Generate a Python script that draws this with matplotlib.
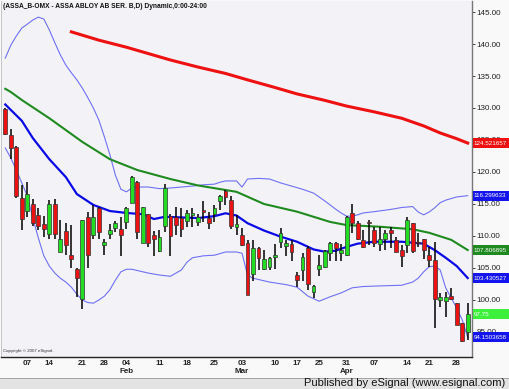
import matplotlib
matplotlib.use("Agg")
import matplotlib.pyplot as plt
from matplotlib.patches import Rectangle
from matplotlib.lines import Line2D
from matplotlib.transforms import blended_transform_factory

plt.rcParams["font.family"] = ["Liberation Sans", "DejaVu Sans"]

# daily candles, 2 Jan - 30 Apr 2008 (one entry per trading day)
opens = [129.8, 125.8, 123.95, 116.0, 113.9, 114.95, 113.3, 111.8, 110.3, 115.0,
         107.55, 110.8, 107.0, 104.8, 100.2, 113.0, 110.2, 114.3, 108.6, 110.3,
         111.3, 111.05, 112.2, 115.2, 118.5, 108.95, 113.4, 110.2, 107.7, 111.6,
         113.1, 113.0, 112.8, 112.3, 113.3, 112.2, 114.1, 112.8, 113.4, 115.4,
         117.1, 115.6, 111.45, 110.2, 108.95, 104.05, 108.1, 104.8, 105.2, 106.7,
         109.1, 108.4, 108.75, 103.9, 104.7, 108.2, 101.3, 104.8, 105.1, 107.4,
         108.95, 107.4, 107.0, 113.6, 112.0, 109.4, 112.2, 110.9, 108.7, 109.6,
         110.9, 109.3, 107.8, 108.6, 112.0, 109.1, 109.6, 107.0, 106.25, 100.0,
         99.9, 100.6, 99.5, 96.45, 95.0]
highs = [130.0, 126.7, 124.0, 118.0, 118.5, 115.8, 114.3, 113.2, 115.6, 115.8,
         112.5, 112.0, 111.7, 104.95, 112.5, 113.8, 114.85, 114.6, 109.6, 111.8,
         112.3, 113.0, 114.6, 119.3, 118.6, 114.6, 113.5, 110.8, 110.9, 118.2,
         113.4, 114.6, 114.3, 114.1, 114.3, 113.4, 115.4, 113.8, 114.85, 116.4,
         117.2, 116.25, 113.3, 111.2, 109.3, 109.4, 108.3, 107.8, 106.7, 108.75,
         111.2, 109.4, 109.4, 104.4, 107.4, 108.4, 102.35, 107.0, 107.8, 109.1,
         109.1, 108.75, 113.1, 115.0, 112.4, 110.9, 112.5, 111.45, 111.45, 110.9,
         111.35, 109.8, 108.6, 113.0, 112.1, 110.4, 109.6, 108.3, 109.1, 101.1,
         101.3, 101.8, 99.5, 96.45, 99.5]
lows = [125.8, 122.1, 116.0, 111.0, 113.0, 111.6, 110.9, 109.9, 109.6, 109.5,
        107.45, 107.1, 105.0, 100.5, 98.55, 105.0, 109.5, 109.5, 107.1, 109.5,
        110.7, 106.9, 111.05, 115.1, 109.5, 108.85, 108.3, 106.9, 107.55, 110.7,
        106.9, 110.2, 109.8, 111.4, 111.4, 111.6, 112.2, 111.05, 112.2, 114.0,
        114.85, 111.05, 110.2, 108.4, 100.8, 103.0, 104.7, 104.7, 104.7, 104.8,
        108.2, 106.9, 106.1, 102.1, 102.9, 101.6, 100.3, 103.75, 104.95, 106.1,
        106.1, 106.1, 106.9, 110.5, 109.3, 108.1, 108.6, 108.3, 107.7, 107.8,
        108.1, 107.55, 105.1, 107.4, 107.4, 108.3, 106.35, 105.1, 95.6, 98.9,
        97.3, 100.0, 96.1, 93.5, 93.8]
closes = [125.9, 123.7, 116.3, 112.7, 116.5, 112.1, 111.6, 111.1, 115.0, 110.3,
          109.5, 108.6, 106.4, 103.5, 112.5, 107.0, 113.0, 110.6, 109.1, 111.0,
          112.1, 110.2, 114.3, 119.2, 110.7, 114.5, 108.85, 109.6, 109.8, 117.45,
          110.0, 111.7, 111.05, 113.55, 113.55, 113.0, 113.8, 112.0, 114.3, 116.25,
          116.05, 111.6, 111.8, 108.6, 100.8, 108.1, 106.5, 106.35, 106.5, 107.0,
          110.5, 108.95, 107.55, 103.1, 106.7, 102.5, 102.2, 105.5, 107.7, 108.95,
          108.1, 107.8, 113.0, 112.1, 109.6, 108.3, 112.0, 108.85, 109.5, 110.5,
          110.5, 107.55, 106.9, 112.5, 107.7, 108.85, 107.8, 106.25, 100.1, 100.4,
          100.4, 100.1, 96.1, 93.65, 97.75]

# long moving average (red)
red_idx = [12, 17, 22, 26, 30, 35, 40, 44, 49, 53, 58, 62, 67, 72, 76, 79, 82, 84]
red_val = [141.9, 140.6, 139.5, 138.5, 137.5, 136.4, 135.4, 134.4, 133.2, 132.2,
           131.2, 130.3, 129.4, 128.4, 127.2, 126.1, 125.2, 124.521657]

# medium moving average (green)
green_idx = [0, 1, 3, 8, 14, 19, 24, 30, 35, 42, 47, 53, 59, 62, 68, 74, 77, 81, 84]
green_val = [133.0, 132.5, 131.25, 128.4, 124.7, 122.0, 120.3, 118.9, 117.9, 116.9,
             115.0, 113.8, 112.2, 111.7, 111.45, 111.05, 110.5, 109.4, 107.806895]

# short moving average (thick blue)
mid_idx = [0, 3, 5, 8, 11, 13, 16, 19, 22, 25, 27, 29, 32, 35, 38, 40, 42, 44, 47,
           50, 53, 56, 58, 60, 62, 64, 67, 72, 76, 78, 80, 82, 84]
mid_val = [130.55, 128.0, 125.3, 122.0, 119.2, 116.55, 114.85, 113.9, 113.6, 113.4,
           112.65, 113.0, 112.9, 112.8, 113.1, 113.55, 113.2, 112.0, 110.85, 109.9,
           109.1, 107.9, 107.55, 107.7, 108.3, 108.8, 109.1, 109.1, 108.8, 107.8,
           106.6, 105.3, 103.430527]

# upper band (thin blue)
upper_idx = [0, 1, 2, 3, 4, 5, 6, 7, 8, 9, 10, 11, 12, 13, 14, 15, 16, 17, 18, 19,
             20, 21, 22, 23, 24, 26, 28, 30, 32, 34, 36, 38, 39, 40, 41, 42, 43, 44,
             46, 48, 50, 52, 54, 56, 57, 58, 59, 60, 61, 62, 63, 64, 65, 67, 70, 72,
             74, 75, 76, 77, 78, 79, 80, 82, 84]
upper_val = [137.8, 139.8, 141.25, 142.5, 143.1, 143.75, 144.2, 143.9, 142.2, 140.2,
             138.3, 136.7, 135.5, 134.4, 133.1, 131.6, 130.0, 128.1, 125.5, 122.7,
             119.5, 117.3, 116.9, 117.5, 117.65, 117.65, 117.4, 117.5, 117.65, 117.8,
             118.0, 118.1, 118.4, 118.6, 118.6, 118.6, 117.65, 118.9, 119.0, 118.9,
             118.3, 117.8, 117.3, 116.7, 116.1, 115.5, 114.85, 114.2, 113.6, 113.1,
             113.1, 113.3, 113.6, 113.8, 114.15, 114.45, 114.6, 113.75, 113.3, 113.75,
             114.4, 115.2, 115.6, 116.1, 116.299633]

# lower band (thin blue)
lower_idx = [0, 1, 2, 3, 4, 5, 6, 7, 8, 9, 10, 11, 12, 13, 14, 15, 16, 17, 18, 19,
             20, 21, 22, 23, 24, 26, 28, 30, 32, 33, 34, 36, 38, 40, 42, 43, 44, 45,
             48, 51, 53, 55, 57, 59, 61, 63, 65, 68, 72, 74, 75, 76, 77, 78, 79, 80,
             82, 83, 84]
lower_val = [123.75, 122.2, 120.3, 118.3, 116.25, 112.8, 109.7, 106.9, 105.3, 104.2,
             103.4, 102.8, 102.0, 100.9, 100.0, 99.6, 99.5, 100.0, 100.6, 101.6,
             103.1, 104.4, 104.8, 104.8, 104.6, 104.2, 103.9, 103.7, 104.7, 105.9,
             106.6, 106.9, 107.0, 107.5, 107.5, 107.3, 103.9, 103.4, 102.8, 102.4,
             102.0, 100.6, 99.8, 100.5, 101.1, 101.9, 102.1, 102.2, 102.3, 102.8,
             103.4, 104.4, 105.2, 105.3, 104.7, 101.9, 98.75, 96.9, 94.1503658]

tick_pos = [4, 8, 14, 18, 22, 28, 33, 38, 43, 49, 53, 57, 62, 67, 73, 77, 82]
tick_labels = ["07", "14", "21", "28", "04\nFeb", "11", "18", "25", "03\nMar",
               "10", "17", "25", "31\nApr", "07", "14", "21", "28"]

title = "(ASSA_B-OMX - ASSA ABLOY AB SER. B,D) Dynamic,0:00-24:00"

RED = "#ee1111"
GREEN_C = "#22dd22"
MA_GREEN = "#1f8a1f"
BLUE = "#0a0ae6"
BAND = "#6f6ff5"
TAG_BLUE = "#1414ee"

fig = plt.figure(figsize=(5.09, 3.89), dpi=100, facecolor="#f9f9f9")
ax = fig.add_axes([1 / 509, 32 / 389, 471 / 509, 356 / 389])
ax.set_facecolor("#f3f3f7")

# indicator lines
ax.plot(upper_idx, upper_val, color=BAND, lw=0.8, zorder=2)
ax.plot(lower_idx, lower_val, color=BAND, lw=0.8, zorder=2)
ax.plot(green_idx, green_val, color=MA_GREEN, lw=1.5, zorder=2)
ax.plot(mid_idx, mid_val, color=BLUE, lw=1.6, zorder=2)
ax.plot(red_idx, red_val, color=RED, lw=2.2, zorder=2)

# candles
idx = list(range(len(closes)))
body_lo = [min(o, c) for o, c in zip(opens, closes)]
body_h = [max(abs(c - o), 0.2) for o, c in zip(opens, closes)]
colors = [GREEN_C if c >= o else RED for o, c in zip(opens, closes)]
ax.vlines(idx, lows, highs, color="black", lw=1.1, zorder=3)
ax.bar(idx, body_h, bottom=body_lo, width=0.7, color=colors,
       edgecolor="#333333", linewidth=0.5, zorder=4)

ax.set_xlim(-0.78, 84.78)
ax.set_ylim(91.09, 146.72)

ax.yaxis.tick_right()
yt = list(range(95, 150, 5))
ax.set_yticks(yt)
ax.set_yticklabels([f"{v:.2f}" for v in yt], fontsize=5.8)
ax.tick_params(axis="y", length=2, pad=1.5, colors="#222222", width=0.6)
ax.set_xticks(tick_pos)
ax.set_xticklabels(tick_labels, fontsize=5.8, fontweight="bold", linespacing=1.2)
ax.tick_params(axis="x", length=0, pad=2.5, colors="#222222")

ax.spines["top"].set_visible(False)
ax.spines["left"].set_color("#bbbbbb")
ax.spines["left"].set_linewidth(0.6)
ax.spines["right"].set_color("#777777")
ax.spines["right"].set_linewidth(1.0)
ax.spines["bottom"].set_color("#222222")
ax.spines["bottom"].set_linewidth(1.0)

# value tags at the right edge
tr = blended_transform_factory(ax.transAxes, ax.transData)
tags = [(red_val[-1], RED),
        (upper_val[-1], TAG_BLUE),
        (green_val[-1], MA_GREEN),
        (mid_val[-1], TAG_BLUE),
        (closes[-1], "#3cf03c"),
        (lower_val[-1], TAG_BLUE)]
for val, bg in tags:
    ax.add_patch(Rectangle((1.003, val - 0.78), 0.077, 1.56, transform=tr,
                           fc=bg, ec="none", zorder=9, clip_on=False))
    ax.text(1.004, val, f"{val}", transform=tr, fontsize=4.5, color="white",
            ha="left", va="center", zorder=10, clip_on=False)

ax.text(0.004, 0.995, title, transform=ax.transAxes, fontsize=4.8,
        fontweight="bold", color="#111111", ha="left", va="top")
ax.text(0.004, 0.012, "Copyright \u00a9 2007 eSignal.", transform=ax.transAxes,
        fontsize=3.2, color="#333333", ha="left", va="bottom")

# bottom band
fig.patches.append(Rectangle((0, 0), 1, 11 / 389, transform=fig.transFigure,
                             fc="#e3e3e3", ec="none", zorder=0))
fig.lines.append(Line2D([0, 1], [11 / 389, 11 / 389], transform=fig.transFigure,
                        color="#999999", lw=0.6))
fig.text(505 / 509, 5.5 / 389, "Published by eSignal (www.esignal.com)",
         fontsize=8, color="#111111", ha="right", va="center")

fig.savefig("out.png", dpi=100, facecolor=fig.get_facecolor())
